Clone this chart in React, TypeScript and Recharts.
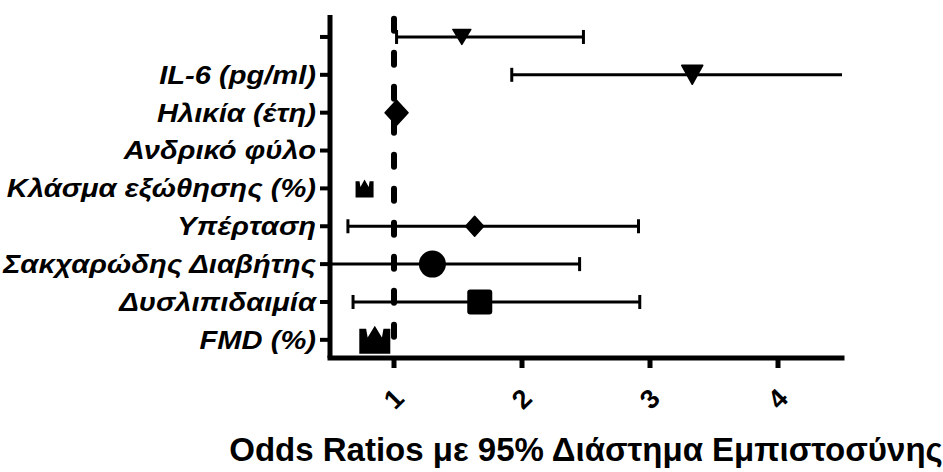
import React from 'react';
import { ScatterChart, Scatter, XAxis, YAxis, ReferenceLine, Label } from 'recharts';

// Rows listed top to bottom
const categories = [
  '',
  'IL-6 (pg/ml)',
  'Ηλικία (έτη)',
  'Ανδρικό φύλο',
  'Κλάσμα εξώθησης (%)',
  'Υπέρταση',
  'Σακχαρώδης Διαβήτης',
  'Δυσλιπιδαιμία',
  'FMD (%)',
];
const oddsRatios: (number | null)[] = [1.53, 3.33, 1.02, null, 0.77, 1.63, 1.3, 1.67, 0.85];
const ciLower: (number | null)[] = [1.02, 1.92, null, null, null, 0.64, 0.3, 0.68, null];
const ciUpper: (number | null)[] = [2.48, 4.7, null, null, null, 2.91, 2.45, 2.92, null];
const xTicks = [1, 2, 3, 4];
const referenceOR = 1;
const axisTitle = 'Odds Ratios με 95% Διάστημα Εμπιστοσύνης';

// marker styles (shape, width, height) per row
const markerStyles: { kind: string; w: number; h: number }[] = [
  { kind: 'triDown', w: 18, h: 15 },
  { kind: 'triDown', w: 21, h: 19 },
  { kind: 'diamond', w: 23, h: 25 },
  { kind: 'none', w: 0, h: 0 },
  { kind: 'crown', w: 18, h: 18 },
  { kind: 'diamond', w: 18, h: 20 },
  { kind: 'circle', w: 27, h: 27 },
  { kind: 'square', w: 25, h: 25 },
  { kind: 'crown', w: 31, h: 28 },
];

const FONT = '"Liberation Sans", Arial, sans-serif';
const nRows = categories.length;
const X_DOMAIN: [number, number] = [0.5, 4.5];
const Y_DOMAIN: [number, number] = [0.52, 9.58];
const CAP_HALF = 0.185; // half cap height in row units

const makeShape = (kind: string, w: number, h: number) => (props: any) => {
  const { cx, cy } = props;
  if (cx == null || cy == null) return <g />;
  const l = cx - w / 2, t = cy - h / 2, r = cx + w / 2, b = cy + h / 2;
  switch (kind) {
    case 'triDown':
      return <path d={`M${l},${t} L${r},${t} L${cx},${b} Z`} fill="#000" stroke="#000" strokeWidth={1.5} strokeLinejoin="round" />;
    case 'diamond':
      return <path d={`M${cx},${t} L${r},${cy} L${cx},${b} L${l},${cy} Z`} fill="#000" stroke="#000" strokeWidth={1.5} strokeLinejoin="round" />;
    case 'circle':
      return <circle cx={cx} cy={cy} r={w / 2} fill="#000" />;
    case 'square':
      return <rect x={l} y={t} width={w} height={h} rx={3} fill="#000" />;
    case 'crown': {
      const X = (u: number) => l + u * w;
      const Y = (v: number) => t + v * h;
      const d = `M${X(0)},${Y(1)} L${X(0)},${Y(0.1)} L${X(0.22)},${Y(0.1)} L${X(0.27)},${Y(0.42)} L${X(0.5)},${Y(0)} L${X(0.73)},${Y(0.42)} L${X(0.78)},${Y(0.1)} L${X(1)},${Y(0.1)} L${X(1)},${Y(1)} Z`;
      return <path d={d} fill="#000" />;
    }
    default:
      return <g />;
  }
};

const XTick = (props: any) => {
  const { x, payload } = props;
  const cy = 399;
  return (
    <text
      x={x}
      y={cy}
      textAnchor="middle"
      dominantBaseline="central"
      transform={`rotate(-45, ${x}, ${cy})`}
      fontFamily={FONT}
      fontWeight="bold"
      fontSize={27}
      fill="#000"
    >
      {payload.value}
    </text>
  );
};

const YTick = (props: any) => {
  const { x, y, payload } = props;
  const label = categories[nRows - payload.value] ?? '';
  return (
    <g transform={`translate(${x},${y}) scale(1.12,1)`}>
      <text
        x={0}
        y={0}
        textAnchor="end"
        dominantBaseline="central"
        fontFamily={FONT}
        fontWeight="bold"
        fontStyle="italic"
        fontSize={26}
        fill="#000"
      >
        {label}
      </text>
    </g>
  );
};

export default function App() {
  const rows = categories.map((name, i) => ({
    name,
    rowPos: nRows - i,
    or: oddsRatios[i],
    lo: ciLower[i],
    hi: ciUpper[i],
    style: markerStyles[i],
  }));

  const ciRows = rows.filter((r) => r.lo != null && r.hi != null);

  return (
    <div style={{ position: 'absolute', left: 0, top: 0, background: '#fff' }}>
      <ScatterChart width={943} height={472} margin={{ top: 15, right: 101, bottom: 0, left: 0 }}>
        <XAxis
          type="number"
          dataKey="x"
          domain={X_DOMAIN}
          ticks={xTicks}
          allowDataOverflow
          axisLine={{ stroke: '#000', strokeWidth: 5, strokeLinecap: 'square' }}
          tickLine={{ stroke: '#000', strokeWidth: 5 }}
          tickSize={10}
          tick={<XTick />}
          height={114}
        >
          <Label
            content={(p: any) => {
              const vb = p.viewBox || { x: 330, y: 358, width: 512 };
              const cx = vb.x + vb.width / 2;
              const by = vb.y + 103;
              return (
                <text
                  x={cx}
                  y={by}
                  textAnchor="middle"
                  fontFamily={FONT}
                  fontWeight="bold"
                  fontSize={33}
                  fill="#000"
                >
                  {axisTitle}
                </text>
              );
            }}
          />
        </XAxis>
        <YAxis
          type="number"
          dataKey="y"
          domain={Y_DOMAIN}
          ticks={rows.map((r) => r.rowPos)}
          interval={0}
          allowDataOverflow
          width={330}
          axisLine={{ stroke: '#000', strokeWidth: 5 }}
          tickLine={{ stroke: '#000', strokeWidth: 4 }}
          tickSize={10}
          tickMargin={4}
          tick={<YTick />}
        />
        <ReferenceLine
          segment={[
            { x: referenceOR, y: 1.08 },
            { x: referenceOR, y: 9.53 },
          ]}
          stroke="#000"
          strokeWidth={6}
          strokeDasharray="12 22"
          strokeLinecap="round"
        />
        {ciRows.map((r) => (
          <ReferenceLine
            key={`ci-${r.rowPos}`}
            segment={[
              { x: r.lo as number, y: r.rowPos },
              { x: r.hi as number, y: r.rowPos },
            ]}
            ifOverflow="hidden"
            stroke="#000"
            strokeWidth={3}
          />
        ))}
        {ciRows.flatMap((r) =>
          [r.lo as number, r.hi as number].map((v, k) => (
            <ReferenceLine
              key={`cap-${r.rowPos}-${k}`}
              segment={[
                { x: v, y: r.rowPos - CAP_HALF },
                { x: v, y: r.rowPos + CAP_HALF },
              ]}
              ifOverflow="hidden"
              stroke="#000"
              strokeWidth={3}
            />
          ))
        )}
        {rows
          .filter((r) => r.or != null)
          .map((r) => (
            <Scatter
              key={r.rowPos}
              data={[{ x: r.or, y: r.rowPos }]}
              isAnimationActive={false}
              shape={makeShape(r.style.kind, r.style.w, r.style.h)}
            />
          ))}
      </ScatterChart>
    </div>
  );
}
